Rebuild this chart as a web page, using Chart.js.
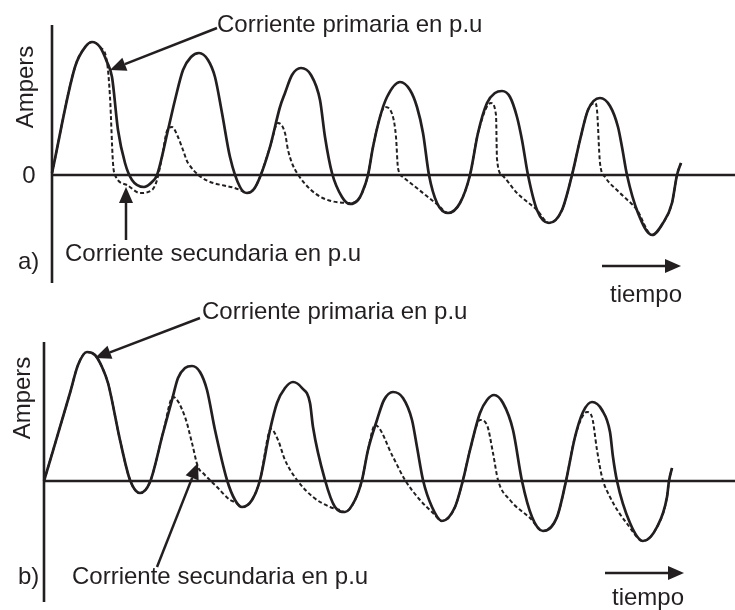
<!DOCTYPE html>
<html>
<head>
<meta charset="utf-8">
<script src="https://cdn.jsdelivr.net/npm/chart.js@4"></script>
<style>
html,body{margin:0;padding:0;background:#fff;}
#wrap{position:relative;width:735px;height:610px;}
canvas{position:absolute;left:0;top:0;}
</style>
</head>
<body>
<div id="wrap">
<canvas id="ca" width="735" height="610"></canvas>
<canvas id="cb" width="735" height="610"></canvas>
</div>
<script>
// ---- Data (time in arbitrary units, current in arbitrary "Ampers" units) ----
// Panel a)
const primaryA = [
  [0,0.2],[2.3,10.8],[3.4,12.9],[4.0,13.3],[4.8,12.8],[5.5,11.3],[6.0,9.8],[6.6,4.5],[7.3,1.2],[8.0,-0.5],
  [9.2,-1.2],[10.0,-0.7],[10.5,0],[11.6,4.5],[12.3,7.5],[13.1,10.5],[13.9,11.8],[14.7,12.2],[15.6,11.5],[16.3,9.8],
  [17.0,6.2],[17.8,1.8],[18.8,-1.2],[19.5,-1.8],[20.2,-1.4],[20.8,-0.2],[21.8,2.8],[22.8,6.8],[23.3,8.2],[24.0,10.0],
  [24.9,10.7],[25.9,10.0],[26.8,7.5],[27.3,3.8],[28.0,0.2],[29.0,-2.2],[29.8,-2.9],[30.6,-2.5],[31.0,-1.8],[31.6,0],
  [32.1,2.8],[32.8,5.8],[33.5,7.8],[34.8,9.3],[35.8,8.5],[36.5,6.8],[37.1,4.2],[37.7,0],[38.5,-2.8],[39.6,-3.8],
  [40.8,-2.8],[41.8,0],[42.6,4.2],[43.5,7.2],[44.3,8.2],[45.0,8.4],[45.8,7.8],[46.5,5.8],[47.0,3.5],[47.6,0],
  [48.5,-3.5],[49.7,-4.8],[51.0,-3.5],[52.0,0],[52.8,3.5],[53.6,6.5],[54.8,7.7],[55.8,6.9],[56.6,4.8],[57.0,2.8],
  [57.5,0],[58.6,-3.8],[60.0,-6.0],[61.1,-4.8],[62.0,-2.8],[62.5,0],[62.9,1.2]
];
const secondaryA = [
  [0,0.2],[2.3,10.8],[3.4,12.9],[4.0,13.3],[4.8,12.8],[5.5,11.3],[5.8,7.8],[6.1,1.2],[6.3,0],[7.5,-1.0],
  [8.8,-1.8],[10.0,-1.5],[10.5,-0.5],[11.0,1.8],[11.5,4.4],[12.0,4.8],[12.6,3.8],[13.1,2.5],[13.6,1.2],[18.8,-1.5],
  [19.5,-1.8],[20.2,-1.4],[20.8,-0.2],[21.8,2.8],[22.6,5.2],[23.3,4.2],[23.6,2.5],[24.5,0.2],[29.8,-2.8],[30.6,-2.5],
  [31.0,-1.8],[31.6,0],[32.1,2.8],[32.8,5.8],[33.3,6.8],[34.1,5.8],[34.4,3.8],[34.6,0.7],[35.1,-0.2],[38.6,-3.0],
  [39.6,-3.8],[40.8,-2.8],[41.8,0],[42.6,4.2],[43.9,7.2],[44.4,6.0],[44.5,1.6],[45.0,0],[46.5,-1.8],[48.5,-3.5],
  [49.7,-4.8],[51.0,-3.5],[52.0,0],[52.8,3.5],[53.6,6.5],[54.3,7.2],[54.5,6.5],[54.8,1.2],[55.3,-0.2],[56.8,-1.8],
  [58.5,-3.5],[60.0,-6.0],[61.1,-4.8],[62.0,-2.8],[62.5,0],[62.9,1.2]
];
// Panel b)
const primaryB = [
  [0,0],[2.6,8.8],[3.4,11.6],[4.3,12.9],[5.1,12.6],[5.8,11.4],[6.4,9.8],[7.6,4.1],[8.6,0.1],[9.6,-1.2],
  [10.6,-0.1],[11.9,4.8],[12.8,8.1],[13.4,10.3],[14.1,11.3],[14.8,11.5],[15.6,10.9],[16.3,9.1],[17.1,5.1],[18.3,0.1],
  [19.1,-1.9],[19.8,-2.6],[20.8,-1.9],[21.6,0.1],[22.6,5.1],[23.3,7.8],[24.1,9.3],[24.9,9.9],[25.8,9.3],[26.6,7.8],
  [26.9,5.4],[28.1,0.1],[29.1,-2.6],[30.1,-3.1],[31.1,-1.9],[31.8,0.1],[32.4,3.1],[33.3,6.1],[34.0,8.1],[34.9,8.9],
  [35.9,8.3],[36.8,6.1],[37.3,3.4],[37.9,0.1],[38.8,-2.6],[39.8,-4.0],[41.1,-2.6],[41.9,0.1],[42.6,3.1],[43.6,6.8],
  [44.3,8.1],[45.0,8.6],[45.9,7.8],[46.9,5.1],[47.8,0],[48.8,-3.6],[49.9,-5.0],[51.3,-3.6],[52.2,0],[53.1,4.4],
  [53.9,6.9],[54.8,7.9],[55.8,7.1],[56.6,4.9],[56.9,2.4],[57.3,0],[58.6,-4.2],[59.9,-6.0],[61.3,-4.6],[62.3,-1.6],
  [62.5,0],[62.8,1.3]
];
const secondaryB = [
  [0,0],[2.6,8.8],[3.4,11.6],[4.3,12.9],[5.1,12.6],[5.8,11.4],[6.4,9.8],[7.6,4.1],[8.6,0.1],[9.6,-1.2],
  [10.6,-0.1],[11.9,4.8],[12.9,8.4],[14.1,6.4],[14.8,3.8],[15.4,1.4],[15.9,0.8],[17.3,-0.6],[18.6,-1.9],[19.1,-2.1],
  [19.8,-2.6],[20.8,-1.9],[21.6,0.1],[22.7,5.2],[23.4,4.1],[24.1,2.1],[25.3,0.1],[26.9,-1.6],[28.6,-2.6],[29.6,-2.9],
  [30.1,-3.1],[31.1,-1.9],[31.8,0.1],[32.4,3.1],[33.1,5.6],[34.9,2.4],[36.1,0.1],[37.6,-1.9],[38.9,-3.2],[39.8,-4.0],
  [41.1,-2.6],[41.9,0.1],[42.6,3.1],[43.6,6.1],[44.3,5.6],[44.9,2.8],[45.4,0.1],[46.6,-1.9],[48.6,-3.7],[49.9,-5.0],
  [51.3,-3.6],[52.2,0],[53.1,4.4],[54.3,6.9],[54.8,6.4],[55.3,3.1],[55.8,0.4],[56.6,-1.6],[58.4,-4.4],[59.9,-6.0],
  [61.3,-4.6],[62.3,-1.6],[62.5,0],[62.8,1.3]
];
const labelPrimary = "Corriente primaria en p.u";
const labelSecondary = "Corriente secundaria en p.u";
const labelY = "Ampers";
const labelX = "tiempo";
const zeroTick = "0";

// ---- Rendering ----
const INK = '#231f20';
const FONT = '24px "Liberation Sans", Arial, sans-serif';
const toXY = arr => arr.map(p => ({x:p[0], y:p[1]}));

function arrow(ctx, x1, y1, x2, y2){
  const ang = Math.atan2(y2-y1, x2-x1), L = 16, W = 7;
  const bx = x2 - L*Math.cos(ang), by = y2 - L*Math.sin(ang);
  ctx.beginPath(); ctx.moveTo(x1,y1); ctx.lineTo(bx,by); ctx.stroke();
  ctx.beginPath();
  ctx.moveTo(x2,y2);
  ctx.lineTo(bx + W*Math.sin(ang), by - W*Math.cos(ang));
  ctx.lineTo(bx - W*Math.sin(ang), by + W*Math.cos(ang));
  ctx.closePath(); ctx.fill();
}

const deco = {
  id:'deco',
  beforeDatasetsDraw(chart, args, o){
    const xs = chart.scales.x, ys = chart.scales.y, ctx = chart.ctx;
    const X = v => xs.getPixelForValue(v), Y = v => ys.getPixelForValue(v);
    ctx.save();
    ctx.strokeStyle = INK; ctx.lineWidth = 2.6; ctx.lineCap = 'butt';
    ctx.beginPath(); ctx.moveTo(X(0), Y(o.axisTop)); ctx.lineTo(X(0), Y(o.axisBottom)); ctx.stroke();
    ctx.beginPath(); ctx.moveTo(X(0), Y(0)); ctx.lineTo(chart.width, Y(0)); ctx.stroke();
    ctx.restore();
  },
  afterDraw(chart, args, o){
    const xs = chart.scales.x, ys = chart.scales.y, ctx = chart.ctx;
    const X = v => xs.getPixelForValue(v), Y = v => ys.getPixelForValue(v);
    ctx.save();
    ctx.fillStyle = INK; ctx.strokeStyle = INK; ctx.lineWidth = 2.5;
    ctx.font = FONT; ctx.textBaseline = 'middle'; ctx.textAlign = 'left';
    for (const t of o.texts){
      if (t.rot){
        ctx.save(); ctx.translate(X(t.x), Y(t.y)); ctx.rotate(-Math.PI/2);
        ctx.textAlign = 'center'; ctx.fillText(t.s, 0, 0); ctx.restore();
      } else {
        ctx.textAlign = t.align || 'left';
        ctx.fillText(t.s, X(t.x), Y(t.y));
      }
    }
    for (const a of o.arrows){ arrow(ctx, X(a[0]), Y(a[1]), X(a[2]), Y(a[3])); }
    ctx.restore();
  }
};

function makeChart(id, prim, sec, xr, yr, decoOpts){
  return new Chart(document.getElementById(id), {
    type:'scatter',
    data:{datasets:[
      {label:'primaria', data:toXY(prim), showLine:true, borderColor:INK, borderWidth:2.7,
       pointRadius:0, cubicInterpolationMode:'monotone', order:0},
      {label:'secundaria', data:toXY(sec), showLine:true, borderColor:INK, borderWidth:2,
       borderDash:[4,2.5], pointRadius:0, cubicInterpolationMode:'monotone', order:1}
    ]},
    options:{
      responsive:false, animation:false, devicePixelRatio:1,
      layout:{padding:0},
      plugins:{legend:{display:false}, tooltip:{enabled:false}, deco:decoOpts},
      events:[],
      scales:{
        x:{type:'linear', display:false, min:xr[0], max:xr[1]},
        y:{type:'linear', display:false, min:yr[0], max:yr[1]}
      }
    },
    plugins:[deco]
  });
}

makeChart('ca', primaryA, secondaryA, [-5.2, 68.3], [-43.5, 17.5], {
  axisTop:15.0, axisBottom:-10.8,
  texts:[
    {s:labelPrimary, x:16.5, y:15.0},
    {s:labelSecondary, x:1.3, y:-7.9},
    {s:'a)', x:-3.4, y:-8.7},
    {s:zeroTick, x:-2.3, y:-0.1, align:'center'},
    {s:labelY, x:-2.6, y:8.8, rot:true},
    {s:labelX, x:55.8, y:-12.0}
  ],
  arrows:[[16.5,14.7,5.8,10.5],[7.4,-6.5,7.4,-1.2],[55.0,-9.1,62.9,-9.1]]
});

makeChart('cb', primaryB, secondaryB, [-4.4, 69.1], [-12.9, 48.1], {
  axisTop:13.9, axisBottom:-12.1,
  texts:[
    {s:labelPrimary, x:15.8, y:16.9},
    {s:labelSecondary, x:2.8, y:-9.6},
    {s:'b)', x:-2.6, y:-9.6},
    {s:labelY, x:-2.1, y:8.3, rot:true},
    {s:labelX, x:56.8, y:-11.7}
  ],
  arrows:[[15.6,16.3,5.1,12.3],[11.3,-8.6,15.4,1.8],[56.1,-9.2,64.0,-9.2]]
});
</script>
</body>
</html>
